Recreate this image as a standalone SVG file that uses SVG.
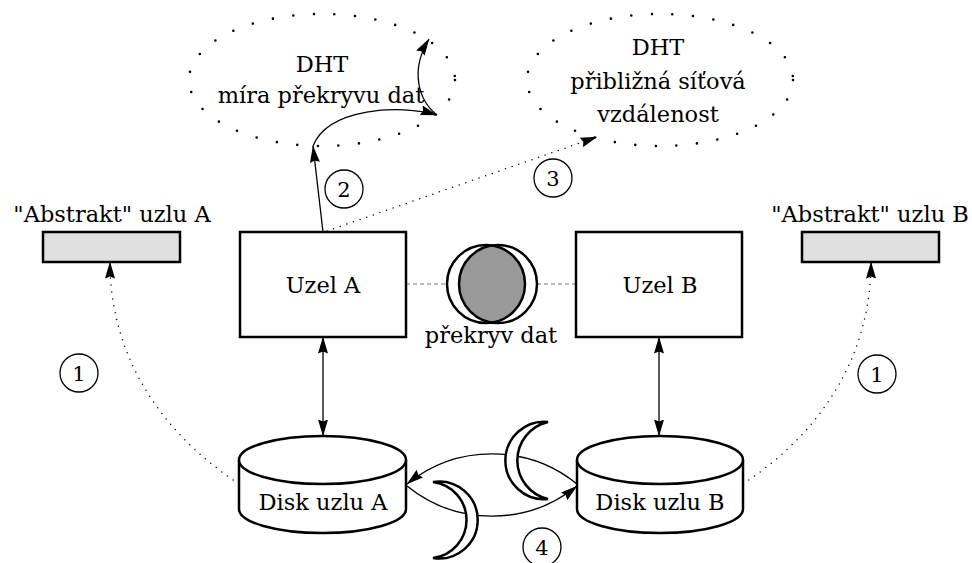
<svg xmlns="http://www.w3.org/2000/svg" width="972" height="563" viewBox="0 0 972 563">
  <defs>
    <style>
      .t { font-family: 'DejaVu Serif', 'Liberation Serif', serif; font-size: 22.5px; fill: #000; text-anchor: middle; }
      .num { font-size: 21px; }
      .box { fill: #fff; stroke: #000; stroke-width: 2.5; }
      .abs { fill: #e0e0e0; stroke: #000; stroke-width: 2.5; }
      .dht { fill: none; stroke: #000; stroke-width: 2.6; stroke-linecap: round; stroke-dasharray: 0 20.6; }
      .link { fill: none; stroke: #000; stroke-width: 1.3; }
      .dots { fill: none; stroke: #000; stroke-width: 1.5; stroke-linecap: round; stroke-dasharray: 0 7; }
      .dash { fill: none; stroke: #777; stroke-width: 1; stroke-dasharray: 4 3; }
      .tag { fill: #fff; stroke: #000; stroke-width: 1.3; }
      .moon { fill: #fff; stroke: #000; stroke-width: 2.5; }
    </style>
    <marker id="head" viewBox="0 0 17 10" refX="16.5" refY="5" markerWidth="17" markerHeight="10" orient="auto-start-reverse" markerUnits="userSpaceOnUse">
      <path d="M0,0 L17,5 L0,10 L2,5 Z" fill="#000"/>
    </marker>
    <clipPath id="leftDisc">
      <circle cx="486" cy="284" r="39"/>
    </clipPath>
  </defs>

  <!-- DHT overlays -->
  <g id="dht-overlap">
    <ellipse class="dht" cx="322" cy="80" rx="133" ry="66"/>
    <text class="t" x="322" y="72">DHT</text>
    <text class="t" x="321" y="103">míra překryvu dat</text>
  </g>
  <g id="dht-distance">
    <ellipse class="dht" cx="660" cy="80" rx="133" ry="66"/>
    <text class="t" x="658" y="55">DHT</text>
    <text class="t" x="658" y="89">přibližná síťová</text>
    <text class="t" x="658" y="122">vzdálenost</text>
  </g>

  <!-- connectors -->
  <g id="connectors">
    <line class="dash" x1="406" y1="284" x2="447" y2="284"/>
    <line class="dash" x1="537" y1="284" x2="576" y2="284"/>
    <line class="link" x1="323" y1="232" x2="313" y2="146" marker-end="url(#head)"/>
    <path class="link" d="M313,146 C328,108 400,104 437,115" marker-end="url(#head)"/>
    <path class="link" d="M437,115 C418,100 410,70 429,39" marker-end="url(#head)"/>
    <line class="dots" x1="327" y1="231" x2="597" y2="137" marker-end="url(#head)"/>
    <line class="link" x1="323" y1="337" x2="323" y2="436" marker-start="url(#head)" marker-end="url(#head)"/>
    <line class="link" x1="659" y1="337" x2="659" y2="436" marker-start="url(#head)" marker-end="url(#head)"/>
    <path class="dots" d="M239,484 C150,425 110,345 110,262" marker-end="url(#head)"/>
    <path class="dots" d="M743,484 C832,425 871,345 871,262" marker-end="url(#head)"/>
    <path class="link" d="M577,484 A135,135 0 0 0 407,484" marker-end="url(#head)"/>
    <path class="link" d="M407,486 A135,135 0 0 0 577,486" marker-end="url(#head)"/>
  </g>

  <!-- nodes -->
  <g id="abstrakt-a">
    <rect class="abs" x="43" y="232" width="137" height="30"/>
    <text class="t" x="112" y="222">"Abstrakt" uzlu A</text>
  </g>
  <g id="abstrakt-b">
    <rect class="abs" x="802" y="232" width="137" height="30"/>
    <text class="t" x="870" y="222">"Abstrakt" uzlu B</text>
  </g>
  <g id="uzel-a">
    <rect class="box" x="240" y="232" width="166" height="105"/>
    <text class="t" x="323" y="293">Uzel A</text>
  </g>
  <g id="uzel-b">
    <rect class="box" x="576" y="232" width="166" height="105"/>
    <text class="t" x="660" y="293">Uzel B</text>
  </g>
  <g id="overlap">
    <circle cx="498" cy="284" r="39" fill="#999" clip-path="url(#leftDisc)"/>
    <circle cx="486" cy="284" r="39" fill="none" stroke="#000" stroke-width="2.5"/>
    <circle cx="498" cy="284" r="39" fill="none" stroke="#000" stroke-width="2.5"/>
    <text class="t" x="491" y="343">překryv dat</text>
  </g>
  <g id="disk-a">
    <path class="box" d="M239,460 L239,509 A83.5,24 0 0 0 406,509 L406,460"/>
    <ellipse class="box" cx="322.5" cy="460" rx="83.5" ry="24"/>
    <text class="t" x="323" y="510">Disk uzlu A</text>
  </g>
  <g id="disk-b">
    <path class="box" d="M577,460 L577,509 A83,24 0 0 0 743,509 L743,460"/>
    <ellipse class="box" cx="660" cy="460" rx="83" ry="24"/>
    <text class="t" x="660" y="510">Disk uzlu B</text>
  </g>

  <!-- crescents over the exchange arcs -->
  <g id="moon-upper">
    <path class="moon" d="M548,422 A38.7,38.7 0 1 0 548,499 A39.5,39.5 0 0 1 548,422 Z"/>
  </g>
  <g id="moon-lower">
    <path class="moon" d="M433,482 A38.5,38.5 0 1 1 433,558 A38.3,38.3 0 0 0 433,482 Z"/>
  </g>

  <!-- step numbers -->
  <g id="step-1a">
    <circle class="tag" cx="79" cy="373" r="19"/>
    <text class="t num" x="79" y="381">1</text>
  </g>
  <g id="step-1b">
    <circle class="tag" cx="877" cy="374" r="19"/>
    <text class="t num" x="877" y="382">1</text>
  </g>
  <g id="step-2">
    <circle class="tag" cx="344" cy="189" r="19"/>
    <text class="t num" x="344" y="197">2</text>
  </g>
  <g id="step-3">
    <circle class="tag" cx="553" cy="178" r="19"/>
    <text class="t num" x="553" y="186">3</text>
  </g>
  <g id="step-4">
    <circle class="tag" cx="542" cy="547" r="19"/>
    <text class="t num" x="542" y="555">4</text>
  </g>
</svg>
